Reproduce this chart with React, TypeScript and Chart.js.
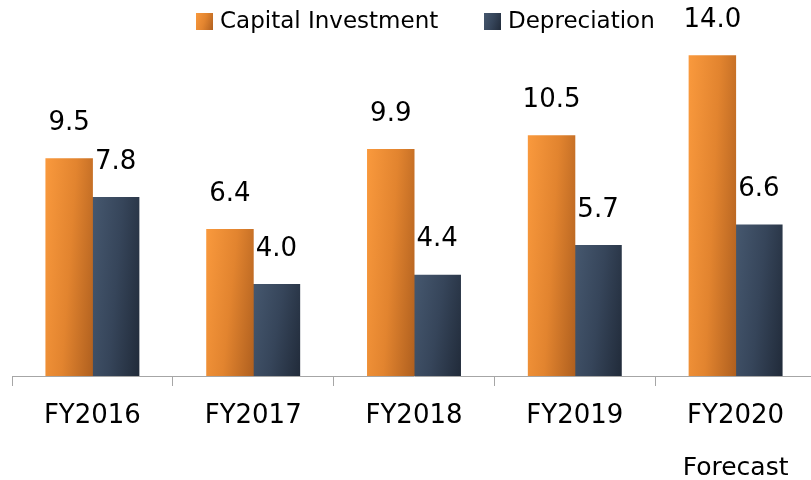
import React, { useEffect, useRef } from "react";
import { Chart, registerables } from "chart.js";

Chart.register(...registerables);

const categories = ["FY2016", "FY2017", "FY2018", "FY2019", "FY2020"];
const subLabels = ["", "", "", "", "Forecast"];
const capitalInvestment = [9.5, 6.4, 9.9, 10.5, 14.0];
const depreciation = [7.8, 4.0, 4.4, 5.7, 6.6];
const seriesNames = ["Capital Investment", "Depreciation"];

const FONT = "'DejaVu Sans', Verdana, sans-serif";
const gradStops = [
  ["#f9993d", "#e2842f", "#b0601f"],
  ["#46586f", "#36455a", "#212b3a"],
];

function makeGrad(ctx: CanvasRenderingContext2D, l: number, t: number, w: number, h: number, idx: number) {
  const a = 0.75, b = 0.25;
  const gx = a / w, gy = b / h;
  const n = gx * gx + gy * gy;
  const g = ctx.createLinearGradient(l, t, l + gx / n, t + gy / n);
  const s = gradStops[idx];
  g.addColorStop(0, s[0]);
  g.addColorStop(0.5, s[1]);
  g.addColorStop(1, s[2]);
  return g;
}

const customPlugin = {
  id: "custom",
  beforeDatasetsDraw(chart: any) {
    const ctx = chart.ctx;
    chart.data.datasets.forEach((_: any, di: number) => {
      const meta = chart.getDatasetMeta(di);
      meta.data.forEach((el: any) => {
        const p = el.getProps(["x", "y", "base", "width"], true);
        const l = p.x - p.width / 2;
        const t = Math.min(p.y, p.base);
        const h = Math.abs(p.base - p.y);
        el.options = Object.assign({}, el.options, {
          backgroundColor: makeGrad(ctx, l, t, p.width, Math.max(h, 1), di),
        });
      });
    });
  },
  afterDatasetsDraw(chart: any) {
    const ctx = chart.ctx;
    ctx.save();
    // data labels
    ctx.fillStyle = "#000";
    ctx.font = `26px ${FONT}`;
    ctx.textAlign = "center";
    ctx.textBaseline = "alphabetic";
    chart.data.datasets.forEach((ds: any, di: number) => {
      const meta = chart.getDatasetMeta(di);
      meta.data.forEach((el: any, i: number) => {
        const p = el.getProps(["x", "y"], true);
        ctx.fillText(Number(ds.data[i]).toFixed(1), p.x, p.y - 29);
      });
    });
    // x labels
    const xs = chart.scales.x;
    const bottom = chart.chartArea.bottom;
    categories.forEach((c, i) => {
      const x = xs.getPixelForValue(i);
      ctx.fillText(c, x, bottom + 47);
      if (subLabels[i]) {
        ctx.font = `25px ${FONT}`;
        ctx.fillText(subLabels[i], x, bottom + 99);
        ctx.font = `26px ${FONT}`;
      }
    });
    // legend
    ctx.font = `23px ${FONT}`;
    ctx.textAlign = "left";
    const legendItems = [
      { x: 196, tx: 220 },
      { x: 484, tx: 508 },
    ];
    legendItems.forEach((it, i) => {
      ctx.fillStyle = makeGrad(ctx, it.x, 13, 17, 17, i);
      ctx.fillRect(it.x, 13, 17, 17);
      ctx.fillStyle = "#000";
      ctx.fillText(seriesNames[i], it.tx, 28);
    });
    ctx.restore();
  },
};

export default function App() {
  const ref = useRef<HTMLCanvasElement>(null);
  useEffect(() => {
    if (!ref.current) return;
    const chart = new Chart(ref.current, {
      type: "bar",
      data: {
        labels: categories,
        datasets: [
          {
            label: seriesNames[0],
            data: capitalInvestment,
            backgroundColor: () => "#f08a30",
            borderWidth: 0,
            inflateAmount: 0.5,
            categoryPercentage: 0.578,
            barPercentage: 1,
          },
          {
            label: seriesNames[1],
            data: depreciation,
            backgroundColor: () => "#3a4a60",
            borderWidth: 0,
            inflateAmount: 0.5,
            categoryPercentage: 0.578,
            barPercentage: 1,
          },
        ],
      },
      options: {
        responsive: false,
        devicePixelRatio: 1,
        animation: false,
        layout: { padding: { left: 12, right: 1, top: 10, bottom: 94 } },
        plugins: { legend: { display: false }, tooltip: { enabled: false } },
        scales: {
          x: {
            type: "category",
            offset: true,
            grid: {
              display: true,
              drawOnChartArea: false,
              drawTicks: true,
              tickLength: 10,
              color: "#a6a6a6",
              offset: true,
            },
            border: { display: true, color: "#a6a6a6", width: 1 },
            ticks: { display: false },
          },
          y: { display: false, min: 0, max: 16 },
        },
      },
      plugins: [customPlugin],
    });
    return () => chart.destroy();
  }, []);
  return (
    <div style={{ position: "absolute", left: 0, top: 0, width: 811, height: 480, overflow: "hidden", background: "#fff" }}>
      <canvas ref={ref} width={817} height={480} style={{ display: "block" }} />
    </div>
  );
}
